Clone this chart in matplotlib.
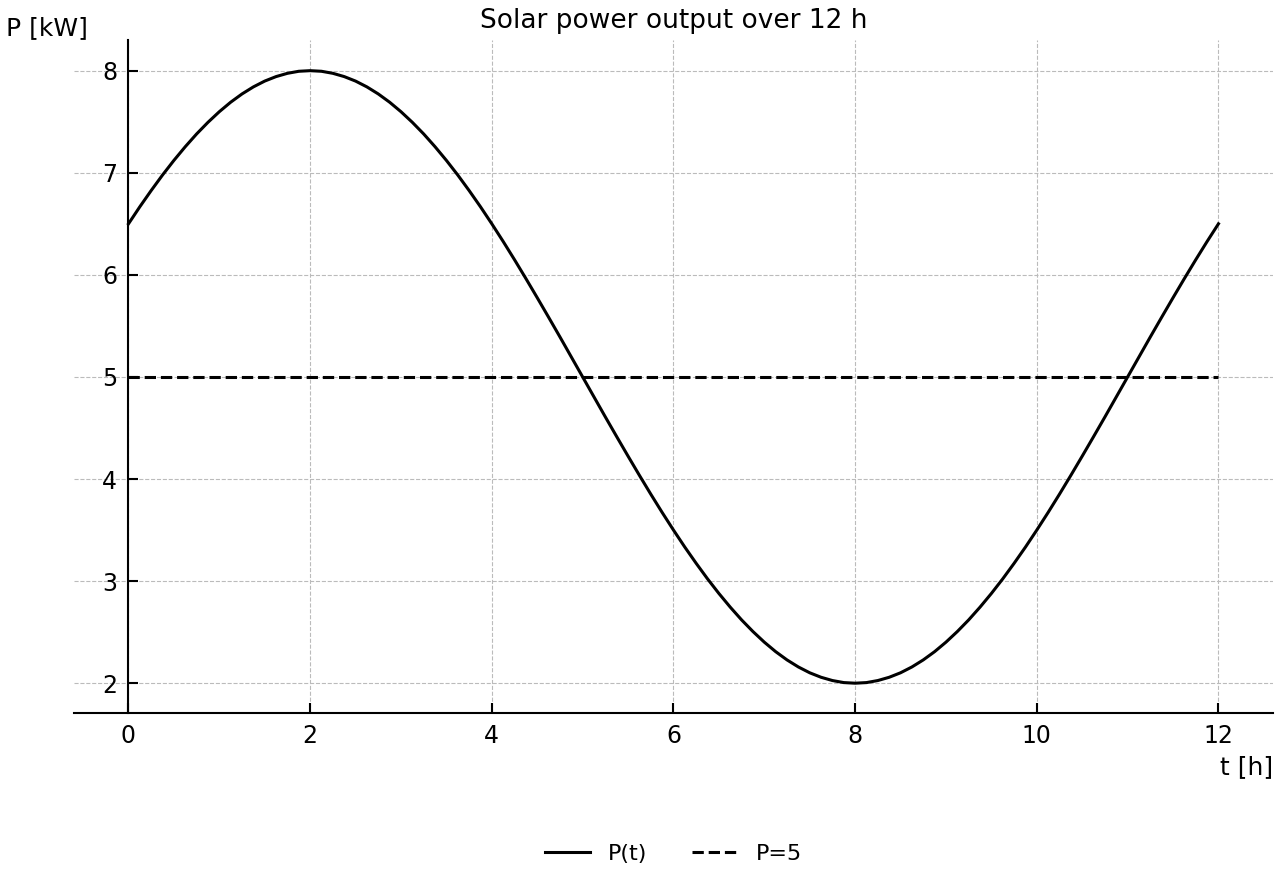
import matplotlib
matplotlib.use("Agg")
from matplotlib import pyplot as plt

# hours and power (0.125 h steps)
t_hours = [
    0, 0.125, 0.25, 0.375, 0.5, 0.625, 0.75, 0.875,
    1, 1.125, 1.25, 1.375, 1.5, 1.625, 1.75, 1.875,
    2, 2.125, 2.25, 2.375, 2.5, 2.625, 2.75, 2.875,
    3, 3.125, 3.25, 3.375, 3.5, 3.625, 3.75, 3.875,
    4, 4.125, 4.25, 4.375, 4.5, 4.625, 4.75, 4.875,
    5, 5.125, 5.25, 5.375, 5.5, 5.625, 5.75, 5.875,
    6, 6.125, 6.25, 6.375, 6.5, 6.625, 6.75, 6.875,
    7, 7.125, 7.25, 7.375, 7.5, 7.625, 7.75, 7.875,
    8, 8.125, 8.25, 8.375, 8.5, 8.625, 8.75, 8.875,
    9, 9.125, 9.25, 9.375, 9.5, 9.625, 9.75, 9.875,
    10, 10.125, 10.25, 10.375, 10.5, 10.625, 10.75, 10.875,
    11, 11.125, 11.25, 11.375, 11.5, 11.625, 11.75, 11.875,
    12,
]
power_kw = [
    6.500, 6.667, 6.826, 6.978, 7.121, 7.255, 7.380, 7.494,
    7.598, 7.691, 7.772, 7.841, 7.898, 7.942, 7.974, 7.994,
    8.000, 7.994, 7.974, 7.942, 7.898, 7.841, 7.772, 7.691,
    7.598, 7.494, 7.380, 7.255, 7.121, 6.978, 6.826, 6.667,
    6.500, 6.327, 6.148, 5.964, 5.776, 5.585, 5.392, 5.196,
    5.000, 4.804, 4.608, 4.415, 4.224, 4.036, 3.852, 3.673,
    3.500, 3.333, 3.174, 3.022, 2.879, 2.745, 2.620, 2.506,
    2.402, 2.309, 2.228, 2.159, 2.102, 2.058, 2.026, 2.006,
    2.000, 2.006, 2.026, 2.058, 2.102, 2.159, 2.228, 2.309,
    2.402, 2.506, 2.620, 2.745, 2.879, 3.022, 3.174, 3.333,
    3.500, 3.673, 3.852, 4.036, 4.224, 4.415, 4.608, 4.804,
    5.000, 5.196, 5.392, 5.585, 5.776, 5.964, 6.148, 6.327,
    6.500,
]
ref_level = 5
x_ticks = [0, 2, 4, 6, 8, 10, 12]
y_ticks = [2, 3, 4, 5, 6, 7, 8]

fig = plt.figure(figsize=(12.8, 8.8), dpi=100)
ax = fig.add_axes([0.0578, 0.190, 0.9367, 0.7645])

ax.plot(t_hours, power_kw, color="black", linewidth=2.2, label="P(t)")
ax.plot([t_hours[0], t_hours[-1]], [ref_level, ref_level], color="black",
        linewidth=2.2, linestyle="--", label="P=5")

ax.set_xlim(-0.6, 12.6)
ax.set_ylim(1.71, 8.3)
ax.set_xticks(x_ticks)
ax.set_yticks(y_ticks)
ax.tick_params(direction="in", length=7, width=1.5, labelsize=17, pad=8)
ax.grid(True, linestyle="--", color="#bbbbbb", linewidth=0.8)

ax.spines["left"].set_position(("data", 0))
ax.spines["right"].set_visible(False)
ax.spines["top"].set_visible(False)
for s in ("left", "bottom"):
    ax.spines[s].set_linewidth(1.5)

ax.set_title("Solar power output over 12 h", fontsize=19, pad=9)
fig.text(0.037, 0.968, "P [kW]", fontsize=18, ha="center", va="center")
fig.text(0.995, 0.128, "t [h]", fontsize=18, ha="right", va="center")

fig.legend(loc="center", bbox_to_anchor=(0.526, 0.03), ncol=2, frameon=False,
           fontsize=16, handlelength=2.05, columnspacing=2.0)

fig.savefig("out.png", dpi=100)
